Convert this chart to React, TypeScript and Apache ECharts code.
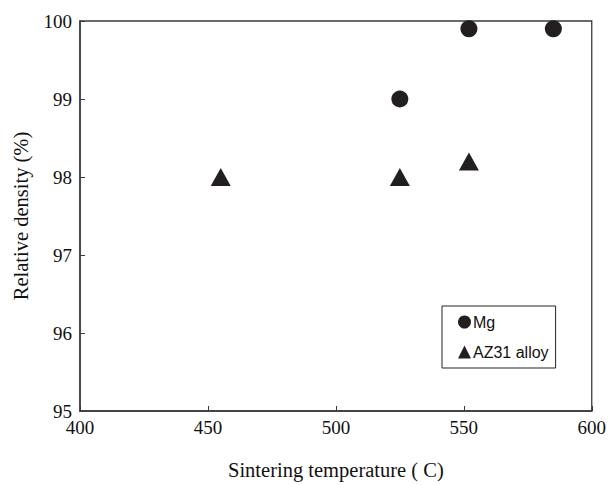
import React, { useEffect, useRef } from "react";
import * as echarts from "echarts";

const mgTemps = [525, 552, 585];
const mgDensity = [99.0, 99.9, 99.9];
const azTemps = [455, 525, 552];
const azDensity = [98.0, 98.0, 98.2];
const xTicks = [400, 450, 500, 550, 600];
const yTicks = [95, 96, 97, 98, 99, 100];

export default function App() {
  const ref = useRef<HTMLDivElement>(null);
  useEffect(() => {
    if (!ref.current) return;
    const chart = echarts.init(ref.current, undefined, { renderer: "svg" });
    const axisColor = "#3a3a3a";
    const serif = "'Liberation Serif', 'Times New Roman', serif";
    chart.setOption({
      animation: false,
      backgroundColor: "#ffffff",
      grid: {
        left: 80,
        right: 15,
        top: 21,
        bottom: 67,
        show: true,
        borderColor: axisColor,
        borderWidth: 1.3,
        backgroundColor: "transparent",
      },
      legend: {
        orient: "vertical",
        left: 442,
        top: 306,
        backgroundColor: "#fff",
        borderColor: "#222",
        borderWidth: 1,
        padding: [8, 7, 8, 16],
        itemGap: 14,
        itemWidth: 13,
        itemHeight: 13,
        textStyle: {
          fontFamily: "'Liberation Sans', Arial, sans-serif",
          fontSize: 16,
          lineHeight: 16,
          color: "#111",
          padding: [0, 0, 0, -3],
        },
        data: ["Mg", "AZ31 alloy"],
      },
      xAxis: {
        type: "value",
        min: xTicks[0],
        max: xTicks[xTicks.length - 1],
        interval: 50,
        name: "Sintering temperature ( C)",
        nameLocation: "middle",
        nameGap: 48,
        nameTextStyle: { fontFamily: serif, fontSize: 20.5, color: "#111" },
        axisLine: { show: true, lineStyle: { color: axisColor, width: 1.5 } },
        axisTick: { show: true, inside: true, length: 5, lineStyle: { color: axisColor } },
        axisLabel: {
          fontFamily: serif,
          fontSize: 19,
          color: "#111",
          margin: 7,
        },
        splitLine: { show: false },
      },
      yAxis: {
        type: "value",
        min: yTicks[0],
        max: yTicks[yTicks.length - 1],
        interval: 1,
        name: "Relative density (%)",
        nameLocation: "middle",
        nameGap: 49,
        nameTextStyle: { fontFamily: serif, fontSize: 20.5, color: "#111" },
        axisLine: { show: true, lineStyle: { color: axisColor, width: 1.5 } },
        axisTick: { show: true, inside: true, length: 5, lineStyle: { color: axisColor } },
        axisLabel: {
          fontFamily: serif,
          fontSize: 19,
          color: "#111",
          margin: 8,
        },
        splitLine: { show: false },
      },
      series: [
        {
          name: "Mg",
          type: "scatter",
          symbol: "circle",
          symbolSize: 17,
          itemStyle: { color: "#231f20", opacity: 1 },
          data: mgTemps.map((t, i) => [t, mgDensity[i]]),
        },
        {
          name: "AZ31 alloy",
          type: "scatter",
          symbol: "triangle",
          symbolSize: [20, 18],
          itemStyle: { color: "#231f20", opacity: 1 },
          data: azTemps.map((t, i) => [t, azDensity[i]]),
        },
      ],
    });
    return () => chart.dispose();
  }, []);
  return (
    <div
      ref={ref}
      style={{ position: "absolute", left: 0, top: 0, width: 609, height: 485 }}
    />
  );
}
